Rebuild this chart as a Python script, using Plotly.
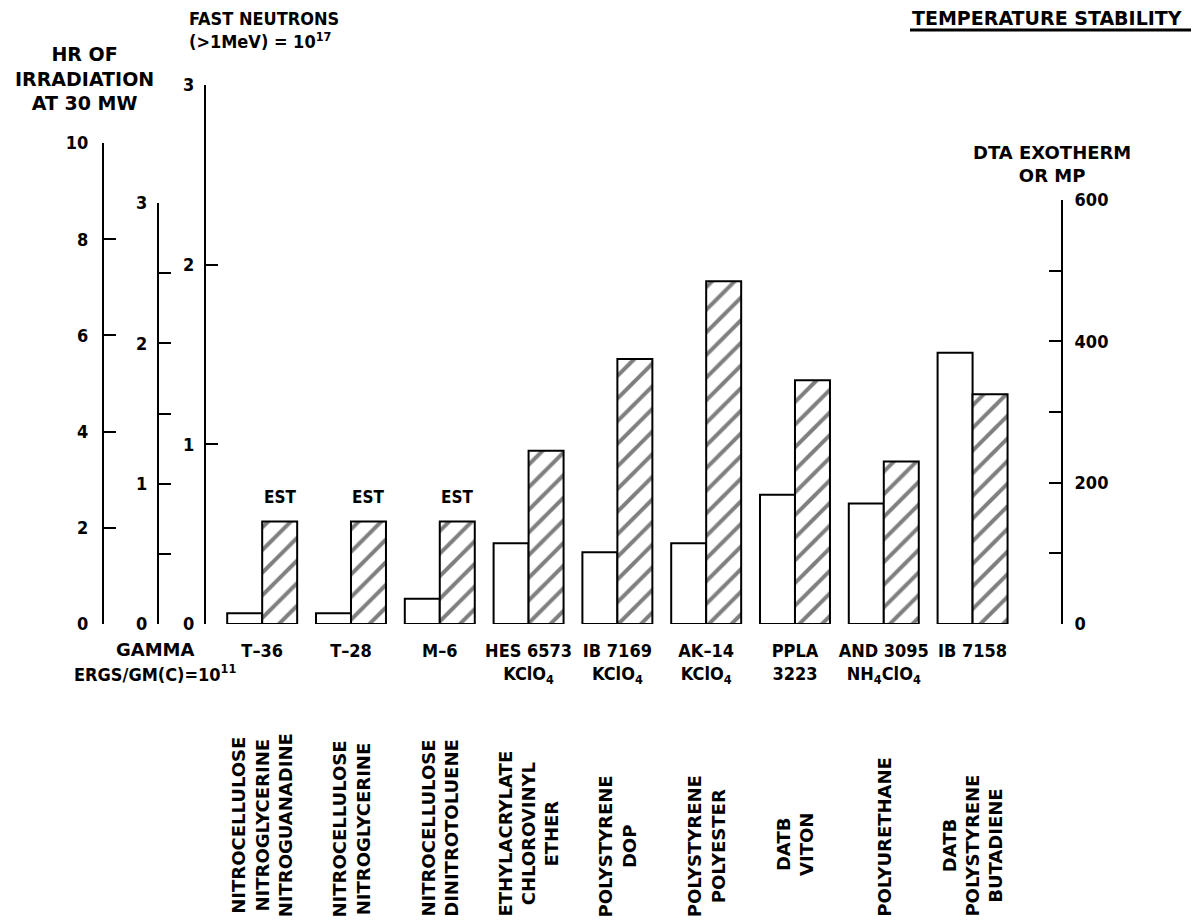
import plotly.graph_objects as go

# ---------------- data ----------------
categories = ["T–36", "T–28", "M–6",
              "HES 6573<br>KClO<sub>4</sub>", "IB 7169<br>KClO<sub>4</sub>",
              "AK–14<br>KClO<sub>4</sub>", "PPLA<br>3223",
              "AND 3095<br>NH<sub>4</sub>ClO<sub>4</sub>", "IB 7158"]
fast_neutrons = [0.06, 0.06, 0.14, 0.45, 0.40, 0.45, 0.72, 0.67, 1.51]   # 10^17 n (>1 MeV)
dta_exotherm = [145, 145, 145, 245, 375, 485, 345, 230, 325]          # DTA exotherm or MP
estimated = [True, True, True, False, False, False, False, False, False]
binders = ["NITROCELLULOSE<br>NITROGLYCERINE<br>NITROGUANADINE",
           "NITROCELLULOSE<br>NITROGLYCERINE",
           "NITROCELLULOSE<br>DINITROTOLUENE",
           "ETHYLACRYLATE<br>CHLOROVINYL<br>ETHER",
           "POLYSTYRENE<br>DOP",
           "POLYSTYRENE<br>POLYESTER",
           "DATB<br>VITON",
           "POLYURETHANE",
           "DATB<br>POLYSTYRENE<br>BUTADIENE"]
hr_ticks = [0, 2, 4, 6, 8, 10]
gamma_ticks = [0, 0.5, 1, 1.5, 2, 2.5, 3]
gamma_text = ["0", "", "1", "", "2", "", "3"]
neutron_ticks = [0, 1, 2, 3]
dta_ticks = [0, 100, 200, 300, 400, 500, 600]
dta_text = ["0", "", "200", "", "400", "", "600"]

# ---------------- geometry helpers (page pixels -> paper fraction) ----------------
OX, OY = 8, 8                 # default page body margin
FIG_W, FIG_H = 1191, 913


def fx(px):
    return (px - OX) / FIG_W


def fy(py):
    return 1 - (py - OY) / FIG_H


BASE = 624
NARROW = "Liberation Sans Narrow, DejaVu Sans Condensed, Arial Narrow, sans-serif"
WIDE = "DejaVu Sans, Liberation Sans, sans-serif"
BW = 0.394
x0_idx = -0.644
x1_idx = 9.007

fig = go.Figure()
fig.add_trace(go.Bar(
    x=categories, y=fast_neutrons, yaxis="y", offset=-BW, width=BW,
    marker=dict(color="white", line=dict(color="black", width=2)),
    showlegend=False, hoverinfo="skip"))
fig.add_trace(go.Bar(
    x=categories, y=dta_exotherm, yaxis="y4", offset=0, width=BW,
    marker=dict(color="white", line=dict(color="black", width=2),
                pattern=dict(shape="/", fgcolor="black", bgcolor="white",
                             size=16, solidity=0.25)),
    showlegend=False, hoverinfo="skip"))
# empty traces so that the extra scales (hours, gamma dose) are drawn
for ax in ("y2", "y3"):
    fig.add_trace(go.Scatter(x=[None], y=[None], yaxis=ax, mode="markers",
                             showlegend=False, hoverinfo="skip"))

axis_common = dict(showgrid=False, zeroline=False, showline=True, linecolor="black",
                   linewidth=2, ticks="inside", ticklen=12, tickwidth=2, tickcolor="black",
                   tickfont=dict(family=NARROW, size=18, color="black", weight="bold"),
                   anchor="free", fixedrange=True)

fig.update_layout(
    width=FIG_W, height=FIG_H,
    margin=dict(l=0, r=0, t=0, b=0, autoexpand=False),
    paper_bgcolor="white", plot_bgcolor="rgba(0,0,0,0)",
    barmode="overlay", showlegend=False,
    xaxis=dict(domain=[fx(205), fx(1062)], range=[x0_idx, x1_idx], type="category",
               showgrid=False, zeroline=False, showline=False, ticks="",
               anchor="y", ticklabelstandoff=14, fixedrange=True,
               tickfont=dict(family=NARROW, size=18, color="black", weight="bold")),
    yaxis=dict(domain=[fy(BASE), fy(85)], range=[0, 3], position=fx(205),
               tickvals=neutron_ticks, ticklabelstandoff=6, **axis_common),
    yaxis2=dict(domain=[fy(BASE), fy(143)], range=[0, 10], position=fx(103),
                tickvals=hr_ticks, ticklabelstandoff=10, **axis_common),
    yaxis3=dict(domain=[fy(BASE), fy(203)], range=[0, 3], position=fx(158),
                tickvals=gamma_ticks, ticktext=gamma_text, ticklabelstandoff=6, **axis_common),
    yaxis4=dict(domain=[fy(BASE), fy(200)], range=[0, 600], position=fx(1062), side="right",
                tickvals=dta_ticks, ticktext=dta_text, ticklabelstandoff=8, **axis_common),
)

ann = []


def txt(text, px, py, family=NARROW, size=18, xanchor="center", yanchor="middle", align="center"):
    ann.append(dict(text=text, x=fx(px), y=fy(py), xref="paper", yref="paper",
                    showarrow=False, xanchor=xanchor, yanchor=yanchor, align=align,
                    font=dict(family=family, size=size, color="black", weight="bold")))


txt("HR OF<br>IRRADIATION<br>AT 30 MW", 84, 78, family=WIDE, size=19)
txt("FAST NEUTRONS<br>(&gt;1MeV) = 10<sup>17</sup>", 187, 30, xanchor="left", align="left")
txt("GAMMA", 155, 649, family=WIDE, size=18)
txt("ERGS/GM(C)=10<sup>11</sup>", 155, 673)
txt("TEMPERATURE STABILITY", 910, 18, family=WIDE, size=19, xanchor="left")
txt("DTA EXOTHERM<br>OR MP", 1052, 164, family=WIDE, size=18)

for i, est in enumerate(estimated):
    if est:
        ann.append(dict(text="EST", x=i + BW / 2, y=fy(497), xref="x", yref="paper",
                        showarrow=False, xanchor="center", yanchor="middle",
                        font=dict(family=NARROW, size=17, color="black", weight="bold")))

for i, b in enumerate(binders):
    if b == "DATB<br>VITON":
        yy, ya = fy(844), "middle"
    else:
        yy, ya = fy(919), "bottom"
    ann.append(dict(text=b, x=i, y=yy, xref="x", yref="paper", textangle=-90,
                    showarrow=False, xanchor="center", yanchor=ya, align="center",
                    font=dict(family=WIDE, size=18, color="black", weight="bold")))

fig.update_layout(annotations=ann)
fig.add_shape(type="line", xref="paper", yref="paper", x0=fx(910), x1=fx(1199),
              y0=fy(30), y1=fy(30), line=dict(color="black", width=3))

fig.write_html("out.html")
